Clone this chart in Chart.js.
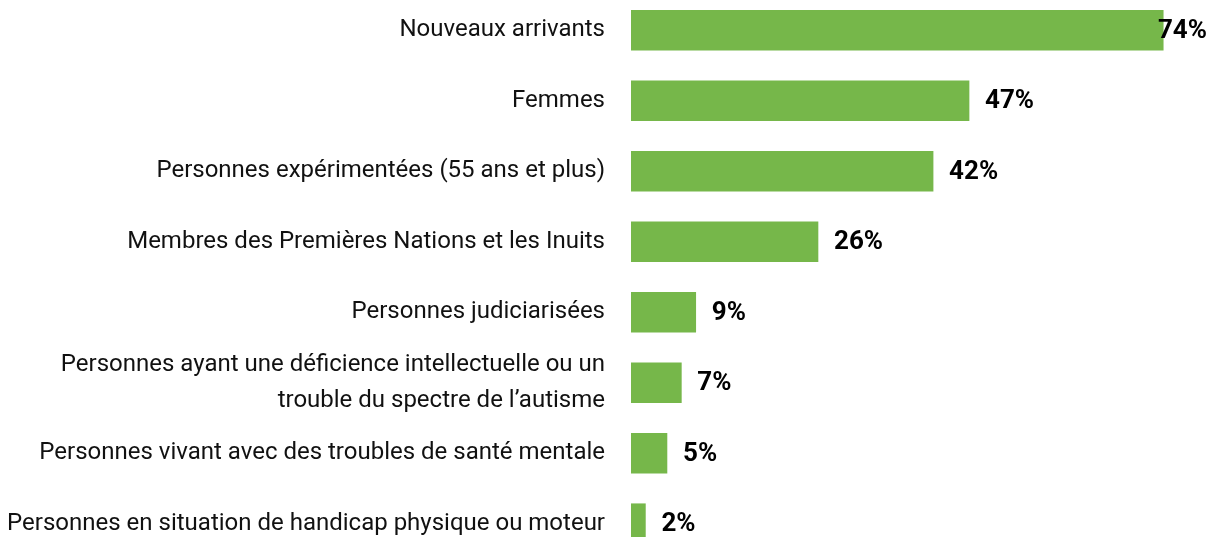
<!DOCTYPE html>
<html>
<head>
<meta charset="utf-8">
<script src="https://cdn.jsdelivr.net/npm/chart.js@4"></script>
<style>
  html, body { margin: 0; padding: 0; background: #fff; overflow: hidden; }
  #wrap { position: absolute; left: 0; top: -5px; width: 1215px; height: 564px; }
</style>
</head>
<body>
<div id="wrap"><canvas id="groupsChart"></canvas></div>
<script>
const labels = [
  'Nouveaux arrivants',
  'Femmes',
  'Personnes expérimentées (55 ans et plus)',
  'Membres des Premières Nations et les Inuits',
  'Personnes judiciarisées',
  ['Personnes ayant une déficience intellectuelle ou un', 'trouble du spectre de l’autisme'],
  'Personnes vivant avec des troubles de santé mentale',
  'Personnes en situation de handicap physique ou moteur'
];
const values = [74, 47, 42, 26, 9, 7, 5, 2];

// valeurs en gras à droite des barres
const valueLabels = {
  id: 'valueLabels',
  afterDatasetsDraw(chart) {
    const ctx = chart.ctx;
    const meta = chart.getDatasetMeta(0);
    ctx.save();
    ctx.font = 'bold 26px Roboto';
    ctx.fillStyle = '#000';
    ctx.textBaseline = 'middle';
    meta.data.forEach((bar, i) => {
      const txt = values[i] + '%';
      const w = ctx.measureText(txt).width;
      const x = Math.min(bar.x + 16, chart.width - w - 8);
      ctx.fillText(txt, x, bar.y + 1);
    });
    ctx.restore();
  }
};

new Chart(document.getElementById('groupsChart'), {
  type: 'bar',
  data: {
    labels: labels,
    datasets: [{
      data: values,
      backgroundColor: '#76B74A',
      barThickness: 40
    }]
  },
  options: {
    indexAxis: 'y',
    responsive: true,
    maintainAspectRatio: false,
    animation: false,
    layout: { padding: 0 },
    plugins: {
      legend: { display: false },
      tooltip: { enabled: false }
    },
    scales: {
      x: {
        display: false,
        min: 0,
        max: 81.2
      },
      y: {
        grid: { display: false, drawTicks: false },
        border: { display: false },
        ticks: {
          autoSkip: false,
          color: '#111',
          padding: 26,
          font: { family: 'Roboto', size: 24, lineHeight: 1.5 }
        },
        afterFit(scale) {
          scale.width = 631;
          scale.paddingTop = 0;
          scale.paddingBottom = 0;
        }
      }
    }
  },
  plugins: [valueLabels]
});
</script>
</body>
</html>
